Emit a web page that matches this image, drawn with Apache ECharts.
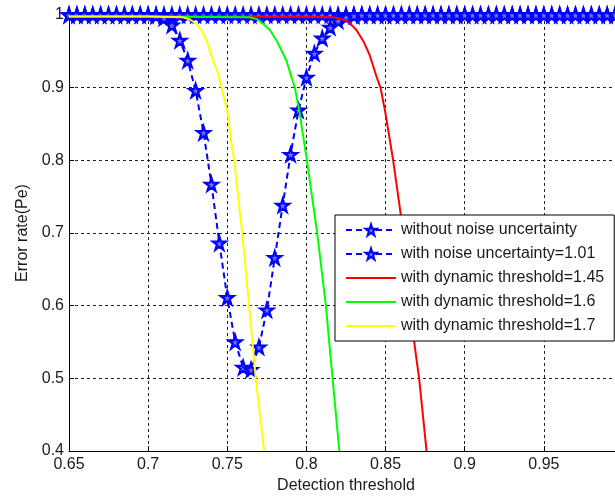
<!DOCTYPE html>
<html>
<head>
<meta charset="utf-8">
<script src="https://cdn.jsdelivr.net/npm/echarts@6/dist/echarts.min.js"></script>
<style>
html,body{margin:0;padding:0;background:#fff;}
#c{width:615px;height:499px;}
</style>
</head>
<body>
<div id="c"></div>
<script>
// ---- data ----
var xTicks = [0.65, 0.7, 0.75, 0.8, 0.85, 0.9, 0.95, 1];
var yTicks = [0.4, 0.5, 0.6, 0.7, 0.8, 0.9, 1];

var starX = [0.65,0.655,0.66,0.665,0.67,0.675,0.68,0.685,0.69,0.695,
             0.7,0.705,0.71,0.715,0.72,0.725,0.73,0.735,0.74,0.745,
             0.75,0.755,0.76,0.765,0.77,0.775,0.78,0.785,0.79,0.795,
             0.8,0.805,0.81,0.815,0.82,0.825,0.83,0.835,0.84,0.845,
             0.85,0.855,0.86,0.865,0.87,0.875,0.88,0.885,0.89,0.895,
             0.9,0.905,0.91,0.915,0.92,0.925,0.93,0.935,0.94,0.945,
             0.95,0.955,0.96,0.965,0.97,0.975,0.98,0.985,0.99,0.995,1];

var noNoiseY = [1,1,1,1,1,1,1,1,1,1,
                1,1,1,1,1,1,1,1,1,1,
                1,1,1,1,1,1,1,1,1,1,
                1,1,1,1,1,1,1,1,1,1,
                1,1,1,1,1,1,1,1,1,1,
                1,1,1,1,1,1,1,1,1,1,
                1,1,1,1,1,1,1,1,1,1,1];

var noiseY = [1,1,1,1,1,1,1,1,1,1,
              1,0.999,0.996,0.986,0.965,0.9375,0.896,0.838,0.767,0.686,
              0.611,0.550,0.515,0.512,0.543,0.594,0.666,0.738,0.808,0.869,
              0.914,0.947,0.968,0.983,0.992,0.997,0.999,1,1,1,
              1,1,1,1,1,1,1,1,1,1,
              1,1,1,1,1,1,1,1,1,1,
              1,1,1,1,1,1,1,1,1,1,1];

var redX = [0.65,0.75,0.8,0.8166,0.8215,0.8253,0.8287,0.8317,0.8360,0.8401,0.8443,0.8468,0.8496,0.8548,0.8595,0.8645,0.8685,0.8712,0.8759];
var redY = [0.998,0.998,0.998,0.997,0.995,0.992,0.986,0.979,0.964,0.944,0.915,0.9,0.869,0.8,0.727,0.62,0.543,0.5,0.4];

var greenX = [0.65,0.7,0.7642,0.7690,0.7726,0.7770,0.7811,0.7874,0.7906,0.7927,0.7958,0.8003,0.8068,0.8123,0.8165,0.8208];
var greenY = [0.998,0.998,0.997,0.994,0.988,0.979,0.965,0.937,0.914,0.9,0.864,0.8,0.7,0.6,0.5,0.4];

var yellowX = [0.65,0.7,0.7219,0.7263,0.7305,0.7340,0.7369,0.7410,0.7442,0.7463,0.7499,0.7527,0.7544,0.7594,0.7638,0.7680,0.7733];
var yellowY = [0.998,0.998,0.997,0.994,0.988,0.978,0.965,0.9375,0.92,0.9,0.869,0.8235,0.8,0.7,0.6,0.5,0.4];

var names = ['without noise uncertainty','with noise uncertainty=1.01',
             'with dynamic threshold=1.45','with dynamic threshold=1.6','with dynamic threshold=1.7'];

function zip(a,b){ var r=[]; for(var i=0;i<a.length;i++) r.push([a[i],b[i]]); return r; }

var STAR = 'path://M50,0 L61.2,34.5 L97.6,34.5 L68.2,55.9 L79.4,90.5 L50,69.1 L20.6,90.5 L31.8,55.9 L2.4,34.5 L38.8,34.5 Z';
var FONT = '"Liberation Sans", Arial, sans-serif';
var TXT = '#1a1a1a';
var CLEAR = 'rgba(0,0,0,0)';

var chart = echarts.init(document.getElementById('c'), null, {renderer:'canvas'});

function fmt(v){ return String(+(+v).toFixed(2)); }

var legendData = [
  {name:names[0]},
  {name:names[1]},
  {name:names[2], itemStyle:{color:CLEAR, borderColor:CLEAR, borderWidth:0}},
  {name:names[3], itemStyle:{color:CLEAR, borderColor:CLEAR, borderWidth:0}},
  {name:names[4], itemStyle:{color:CLEAR, borderColor:CLEAR, borderWidth:0}}
];

var option = {
  animation:false,
  backgroundColor:'#ffffff',
  textStyle:{fontFamily:FONT},
  grid:{left:69, top:15, width:554, height:436, containLabel:false, outerBoundsMode:'none'},
  legend:{
    orient:'vertical', left:335, top:215,
    data:legendData,
    itemWidth:50, itemHeight:14, itemGap:8,
    padding:[7,10,7,10],
    backgroundColor:'#ffffff', borderColor:'#000', borderWidth:1, borderRadius:0,
    textStyle:{fontFamily:FONT, fontSize:16, color:TXT},
    z:10
  },
  xAxis:{
    type:'value', min:xTicks[0], max:xTicks[xTicks.length-1], interval:0.05,
    name:'Detection threshold', nameLocation:'middle', nameGap:27,
    nameTextStyle:{fontFamily:FONT, fontSize:16, color:TXT},
    axisLine:{show:true, onZero:false, lineStyle:{color:'#000', width:1}},
    axisTick:{show:true, inside:true, length:5, lineStyle:{color:'#000'}},
    axisLabel:{margin:6, fontFamily:FONT, fontSize:16, color:TXT, formatter:fmt},
    splitLine:{show:true, lineStyle:{color:'#222', type:[3,3], width:1}}
  },
  yAxis:{
    type:'value', min:yTicks[0], max:yTicks[yTicks.length-1], interval:0.1,
    name:'Error rate(Pe)', nameLocation:'middle', nameGap:38, nameRotate:90,
    nameTextStyle:{fontFamily:FONT, fontSize:16, color:TXT},
    axisLine:{show:true, onZero:false, lineStyle:{color:'#000', width:1}},
    axisTick:{show:true, inside:true, length:5, lineStyle:{color:'#000'}},
    axisLabel:{margin:5, fontFamily:FONT, fontSize:16, color:TXT, formatter:fmt},
    splitLine:{show:true, lineStyle:{color:'#222', type:[3,3], width:1}}
  },
  series:[
    {name:names[0], type:'line', data:zip(starX,noNoiseY), clip:false,
     symbol:STAR, symbolSize:13, showAllSymbol:true,
     lineStyle:{color:'#0000ff', width:2, type:[6,4]},
     itemStyle:{color:'#7070ff', borderColor:'#0000ff', borderWidth:2.2},
     z:2},
    {name:names[1], type:'line', data:zip(starX,noiseY), clip:false,
     symbol:STAR, symbolSize:13, showAllSymbol:true,
     lineStyle:{color:'#0000ff', width:2, type:[6,4]},
     itemStyle:{color:'#7070ff', borderColor:'#0000ff', borderWidth:2.2},
     z:3},
    {name:names[2], type:'line', data:zip(redX,redY), symbol:'none',
     lineStyle:{color:'#ff0000', width:2}, itemStyle:{color:'#ff0000'}, z:4},
    {name:names[3], type:'line', data:zip(greenX,greenY), symbol:'none',
     lineStyle:{color:'#00ff00', width:2}, itemStyle:{color:'#00ff00'}, z:5},
    {name:names[4], type:'line', data:zip(yellowX,yellowY), symbol:'none',
     lineStyle:{color:'#ffff00', width:2}, itemStyle:{color:'#ffff00'}, z:6}
  ]
};
chart.setOption(option);
</script>
</body>
</html>
